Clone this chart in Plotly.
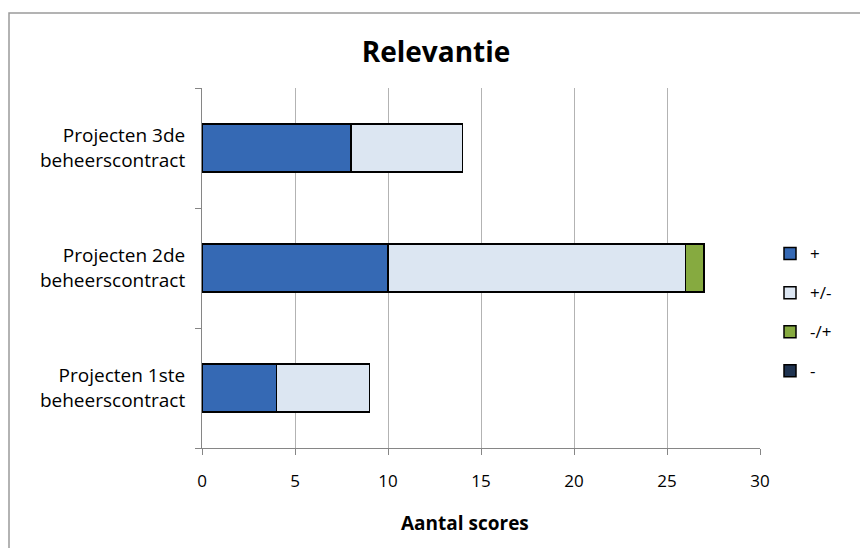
import plotly.graph_objects as go

# Categories (bottom to top) and the score counts per rating
categories = [
    "Projecten 1ste<br>beheerscontract",
    "Projecten 2de<br>beheerscontract",
    "Projecten 3de<br>beheerscontract",
]
score_plus = [4, 10, 8]
score_plus_minus = [5, 16, 6]
score_minus_plus = [0, 1, 0]
score_minus = [0, 0, 0]

series = [
    ("+", score_plus, "#3569b4"),
    ("+/-", score_plus_minus, "#dce6f2"),
    ("-/+", score_minus_plus, "#86aa40"),
    ("-", score_minus, "#1f3350"),
]

FONT = "Open Sans"

fig = go.Figure()
for i, (name, values, color) in enumerate(series):
    fig.add_trace(go.Bar(
        y=categories,
        x=values,
        name=name,
        orientation="h",
        legendgroup=f"g{i}",
        marker=dict(color=color, line=dict(color="#000000", width=1.5)),
        width=0.4,
    ))

W, H = 860, 548
L, R, T, B = 202, 100, 88, 100
pw, ph = W - L - R, H - T - B

def px_x(x):
    return (x - L) / pw

def px_y(y):
    return (H - B - y) / ph

fig.update_layout(
    width=W,
    height=H,
    barmode="stack",
    margin=dict(l=L, r=R, t=T, b=B),
    paper_bgcolor="white",
    plot_bgcolor="white",
    font=dict(family=FONT, size=16, color="#000000"),
    title=dict(
        text="<b>Relevantie</b>",
        x=436 / W, xref="container", xanchor="center",
        y=1 - 52 / H, yref="container", yanchor="middle",
        font=dict(family=FONT, size=28, color="#000000"),
    ),
    showlegend=True,
    legend=dict(
        traceorder="grouped",
        tracegroupgap=14,
        x=px_x(770), xanchor="left",
        y=px_y(236), yanchor="top",
        font=dict(family=FONT, size=17),
        bgcolor="rgba(0,0,0,0)",
        itemwidth=30,
    ),
    xaxis=dict(
        range=[0, 30],
        tickvals=[0, 5, 10, 15, 20, 25, 30],
        showgrid=True,
        gridcolor="#b3b3b3",
        gridwidth=1,
        zeroline=False,
        showline=True,
        linecolor="#868686",
        linewidth=1,
        ticks="outside",
        ticklen=6,
        tickcolor="#868686",
        ticklabelstandoff=12,
        tickfont=dict(family=FONT, size=17),
    ),
    yaxis=dict(
        showgrid=False,
        zeroline=False,
        showline=True,
        linecolor="#868686",
        linewidth=1,
        ticks="outside",
        tickson="boundaries",
        ticklen=6,
        tickcolor="#868686",
        ticklabelstandoff=12,
        tickfont=dict(family=FONT, size=19),
    ),
    annotations=[
        dict(
            text="<b>Aantal scores</b>",
            x=px_x(465), xref="paper", xanchor="center",
            y=px_y(523), yref="paper", yanchor="middle",
            showarrow=False,
            font=dict(family=FONT, size=19, color="#000000"),
        )
    ],
    shapes=[
        dict(
            type="rect", xref="paper", yref="paper",
            x0=px_x(9), x1=px_x(W + 20),
            y0=px_y(H + 20), y1=px_y(13),
            line=dict(color="#9a9a9a", width=1.5),
            fillcolor="rgba(0,0,0,0)",
            layer="below",
        )
    ],
)

fig.write_html("out.html")
